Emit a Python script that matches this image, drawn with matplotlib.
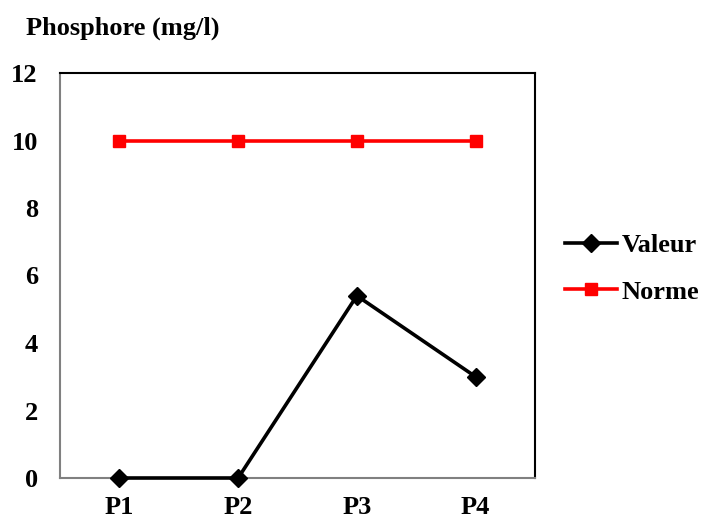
import matplotlib
matplotlib.use("Agg")
import matplotlib.pyplot as plt

points = ["P1", "P2", "P3", "P4"]
valeur = [0.0, 0.0, 5.4, 3.0]
norme = [10, 10, 10, 10]
y_ticks = [0, 2, 4, 6, 8, 10, 12]

plt.rcParams["font.family"] = ["Liberation Serif", "DejaVu Serif"]
plt.rcParams["font.weight"] = "bold"

fig = plt.figure(figsize=(7.02, 5.18), dpi=100)
ax = fig.add_axes([60 / 702, 40 / 518, 475 / 702, 405 / 518])

x = list(range(len(points)))
ax.plot(x, valeur, color="black", lw=2.6, marker="D", ms=9, label="Valeur",
        clip_on=False, zorder=4)
ax.plot(x, norme, color="#ff0000", lw=2.6, marker="s", ms=9, label="Norme",
        clip_on=False, zorder=3)

ax.set_xlim(-0.5, len(points) - 0.5)
ax.set_ylim(0, 12)
ax.set_xticks(x)
ax.set_xticklabels(points)
ax.set_yticks(y_ticks)
ax.tick_params(length=0, labelsize=19)
ax.tick_params(axis="y", pad=16)
ax.tick_params(axis="x", pad=13)
for lab in ax.get_xticklabels() + ax.get_yticklabels():
    lab.set_fontweight("bold")

for side in ("left", "bottom"):
    ax.spines[side].set_color("#808080")
    ax.spines[side].set_linewidth(1.5)
for side in ("top", "right"):
    ax.spines[side].set_color("black")
    ax.spines[side].set_linewidth(1.5)

fig.text(26 / 702, 1 - 28 / 518, "Phosphore (mg/l)", fontsize=19,
         fontweight="bold", va="center", ha="left")

ax.legend(loc="center left", bbox_to_anchor=(1.04, 0.517), frameon=False,
          prop={"size": 19, "weight": "bold"}, handlelength=2.0,
          handletextpad=0.15, labelspacing=0.87, borderaxespad=0)

fig.savefig("out.png", dpi=100)
